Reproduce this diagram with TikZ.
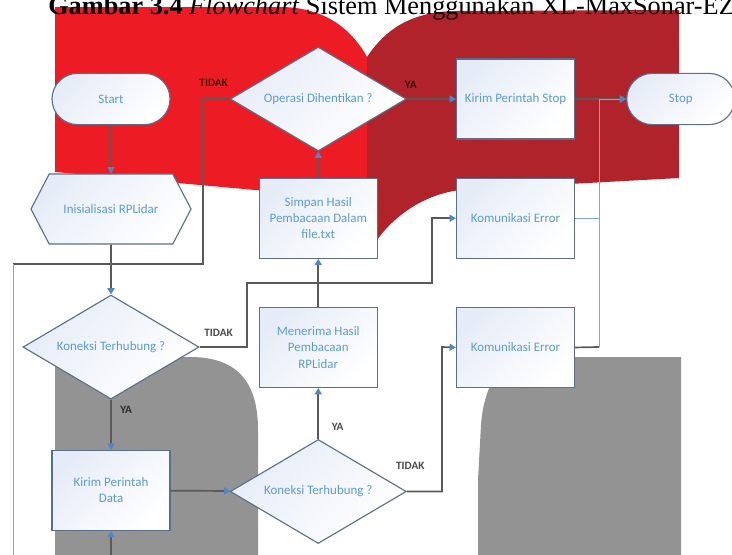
\documentclass[tikz,border=0pt]{standalone}
\usepackage{fontspec}
\setmainfont{Carlito}
\newfontfamily\titlefont{Liberation Serif}
\usepackage{xcolor}
\usetikzlibrary{shapes.geometric, shapes.symbols, arrows.meta, positioning}
\definecolor{bgred}{HTML}{ED1C24}
\definecolor{bgdarkred}{HTML}{B0232A}
\definecolor{bggray}{HTML}{939393}
\definecolor{boxline}{HTML}{5B6F8C}
\definecolor{boxfill}{HTML}{E6ECF7}
\definecolor{boxtext}{HTML}{5B9BD5}
\definecolor{linegray}{HTML}{5A5A5A}
\definecolor{lineblue}{HTML}{7BA7DB}
\definecolor{tipblue}{HTML}{4F86C6}
\tikzstyle{base} = [draw=boxline, line width=0.8pt, top color=boxfill, bottom color=white, shading angle=45, text=boxtext, font=\fontsize{9.2}{11.5}\selectfont, align=center, inner sep=1pt]
\tikzstyle{startstop} = [base, rectangle, rounded corners=0.64cm, minimum width=2.95cm, minimum height=1.28cm]
\tikzstyle{prep} = [base, signal, signal to=west and east, signal pointer angle=125, minimum width=4cm, minimum height=1.75cm]
\tikzstyle{process} = [base, rectangle, minimum width=2.95cm, minimum height=2cm]
\tikzstyle{decision} = [base, diamond, aspect=1.7, minimum width=4.4cm, minimum height=2.6cm, inner sep=0pt]
\tikzstyle{line} = [draw=linegray, line width=1.2pt]
\tikzstyle{arrow} = [line, -{Triangle[length=4.5pt, width=5pt, color=tipblue]}]
\tikzstyle{errline} = [draw=lineblue, line width=0.7pt]
\tikzstyle{lbl} = [font=\fontsize{8}{9}\selectfont\bfseries, text=black, text opacity=0.7, inner sep=1pt]

\begin{document}
\begin{tikzpicture}[x=0.025cm, y=-0.025cm]
  \useasboundingbox (0,0) rectangle (732,554);
  \clip (0,0) rectangle (732,554);
  % page background
  \fill[bgred] (55,7) -- (280,7) .. controls (330,7) and (355,35) .. (367,57) -- (367,200) -- (55,172) -- cycle;
  \fill[bgdarkred] (367,57) .. controls (385,30) and (410,12) .. (455,11) -- (679,10) -- (679,178) -- (460,190) .. controls (420,195) and (390,220) .. (375,243) -- (367,243) -- cycle;
  \fill[bggray] (55,357) -- (190,357) .. controls (240,357) and (258,385) .. (258,430) -- (258,560) -- (55,560) -- cycle;
  \fill[bggray] (681,357) -- (535,357) .. controls (500,357) and (484,385) .. (481,425) -- (478,480) -- (478,560) -- (681,560) -- cycle;
  \node (title) [anchor=base west, inner sep=0pt, font=\titlefont\fontsize{18.7}{22}\selectfont] at (48,14) {\textbf{Gambar 3.4} \textit{Flowchart} Sistem Menggunakan XL-MaxSonar-EZ};

  \node (start) [startstop] at (111,99) {Start};
  \node (init) [prep, below of=start, node distance=2.75cm] {Inisialisasi RPLidar};
  \node (cek1) [decision, below of=init, node distance=3.45cm] {Koneksi Terhubung ?};
  \node (kirimdata) [process, below of=cek1, node distance=3.58cm] {Kirim Perintah\\Data};
  \node (operasi) [decision, right of=start, node distance=5.18cm] {Operasi Dihentikan ?};
  \node (simpan) [process, below of=operasi, node distance=2.98cm] {Simpan Hasil\\Pembacaan Dalam\\file.txt};
  \node (terima) [process, below of=simpan, node distance=3.23cm] {Menerima Hasil\\Pembacaan\\RPLidar};
  \node (cek2) [decision, below of=terima, node distance=3.6cm] {Koneksi Terhubung ?};
  \node (kirimstop) [process, right of=operasi, node distance=4.93cm] {Kirim Perintah Stop};
  \node (error1) [process, below of=kirimstop, node distance=2.98cm] {Komunikasi Error};
  \node (error2) [process, below of=error1, node distance=3.23cm] {Komunikasi Error};
  \node (stop) [startstop, right of=kirimstop, node distance=4.13cm, minimum width=2.7cm] {Stop};

  \coordinate (loopa) at (203,264);
  \coordinate (loopb) at (13,264);
  \coordinate (loopc) at (13,600);
  \coordinate (tidak1) at (247,283);
  \coordinate (tidak1b) at (432,283);
  \coordinate (tidak2) at (442,347);
  \coordinate (errjoin) at (599,347);

  \draw[arrow] (start) -- (init);
  \draw[arrow] (init) -- (cek1);
  \draw[arrow] (cek1) -- node (ya1) [lbl, right=5pt, pos=0.2] {YA} (kirimdata);
  \draw[arrow] (kirimdata) -- (cek2);
  \draw[arrow] (cek2) -- node (ya2) [lbl, right=8pt, pos=0.23] {YA} (terima);
  \draw[arrow] (terima) -- (simpan);
  \draw[arrow] (simpan) -- (operasi);
  \draw[arrow] (operasi) -- node (ya3) [lbl, above=6pt, pos=0.08] {YA} (kirimstop);
  \draw[arrow] (kirimstop) -- (stop);
  \draw[arrow] (cek1.east) -| node (tidak1lbl) [lbl, above=6pt, pos=0.2] {TIDAK} (tidak1) -- (tidak1b) |- (error1.west);
  \draw[arrow] (cek2.east) -| node (tidak2lbl) [lbl, above=14pt, pos=0.05] {TIDAK} (tidak2) -- (error2.west);
  \draw[line] (operasi.west) -| node (tidak3lbl) [lbl, above=7pt, pos=0.3] {TIDAK} (loopa) -- (loopb);
  \draw[errline] (loopb) -- (loopc);
  \draw[arrow] (loopc) -| (kirimdata);
  \draw[errline] (error1.east) -- (error1.east -| errjoin);
  \draw[line] (error2.east) -- (errjoin);
  \draw[arrow, errline] (errjoin) |- (stop);%(stop.west)
\end{tikzpicture}
\end{document}
